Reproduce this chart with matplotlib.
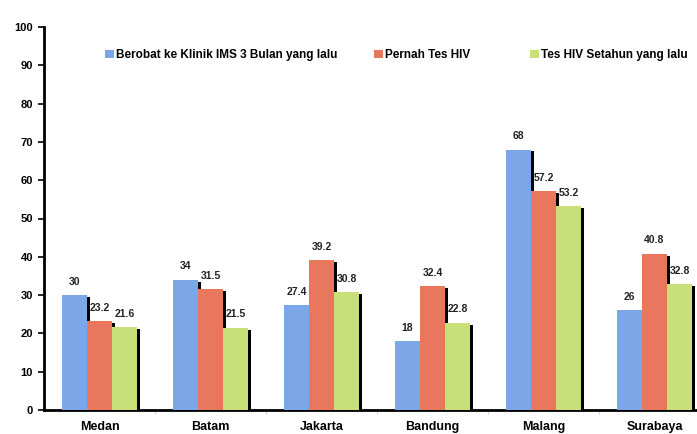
import matplotlib
matplotlib.use("Agg")
import matplotlib.pyplot as plt
import numpy as np
from matplotlib.patches import Patch

plt.rcParams['font.family'] = ['Liberation Sans', 'DejaVu Sans']
plt.rcParams['font.weight'] = 'bold'

cities = ["Medan", "Batam", "Jakarta", "Bandung", "Malang", "Surabaya"]
series_names = ["Berobat ke Klinik IMS 3 Bulan yang lalu", "Pernah Tes HIV",
                "Tes HIV Setahun yang lalu"]
klinik_ims = [30, 34, 27.4, 18, 68, 26]
pernah_tes = [23.2, 31.5, 39.2, 32.4, 57.2, 40.8]
tes_setahun = [21.6, 21.5, 30.8, 22.8, 53.2, 32.8]
yticks = [0, 10, 20, 30, 40, 50, 60, 70, 80, 90, 100]

colors = ["#7BA7E8", "#E8775D", "#C9E07A"]
series = [klinik_ims, pernah_tes, tes_setahun]

fig = plt.figure(figsize=(6.97, 4.34), dpi=100)
ax = fig.add_axes([44 / 697, 1 - 410 / 434, (697 - 44) / 697, (410 - 27) / 434])

x = np.arange(len(cities))
w = 0.225
sw = 0.03
for i, (vals, col) in enumerate(zip(series, colors)):
    xs = x + (i - 1) * w
    # black shadow strip on the right edge of each bar
    ax.bar(xs + w / 2 + sw / 2, np.array(vals) - 0.5, width=sw, color="black",
           zorder=2)
    ax.bar(xs, vals, width=w, color=col, zorder=3)
    for xi, v in zip(xs, vals):
        ax.annotate(f"{v:g}", (xi, v), xytext=(0, 6), textcoords="offset points",
                    ha="center", va="bottom", fontsize=7.5, fontweight="bold",
                    color="#222222")

ax.set_xlim(-0.5, -0.5 + 653 / 111)
ax.set_ylim(0, 100)
ax.set_yticks(yticks)
ax.set_xticks(x)
ax.set_xticklabels(cities, fontsize=9, fontweight="bold")
ax.set_xticks(np.arange(0.5, len(cities) - 0.5, 1), minor=True)
ax.tick_params(axis="x", which="major", length=0, pad=8)
ax.tick_params(axis="x", which="minor", length=3, color="#cccccc", direction="out")
ax.tick_params(axis="y", length=4, width=1.2, labelsize=8, pad=4)
for lab in ax.get_yticklabels():
    lab.set_fontweight("bold")

for side in ("top", "right"):
    ax.spines[side].set_visible(False)
ax.spines["left"].set_linewidth(2)
ax.spines["bottom"].set_linewidth(2)

legend_x = [105, 374, 530]
for name, col, lx in zip(series_names, colors, legend_x):
    fig.legend(handles=[Patch(facecolor=col, edgecolor="none")],
               labels=[name], loc="center left",
               bbox_to_anchor=(lx / 697, 1 - 55 / 434), frameon=False,
               handlelength=0.75, handleheight=0.75, handletextpad=0.2,
               borderpad=0, borderaxespad=0,
               prop={"size": 8.5, "weight": "bold"})

fig.savefig("out.png", dpi=100)
